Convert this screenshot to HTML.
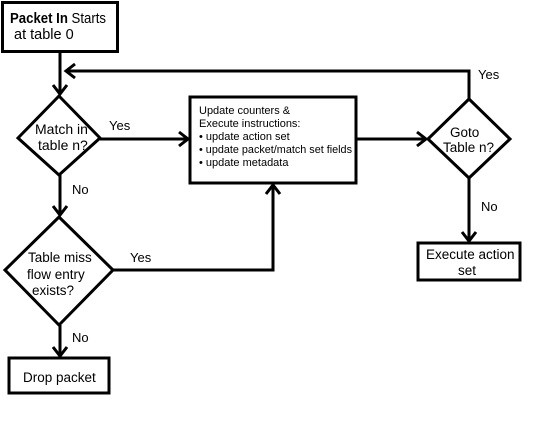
<!DOCTYPE html>
<html><head><style>
body{margin:0;background:#fff;}
svg text{font-family:"Liberation Sans",Arial,sans-serif;fill:#000;}
</style></head><body>
<svg width="542" height="417" viewBox="0 0 542 417" xmlns="http://www.w3.org/2000/svg">
<g fill="none" stroke="#000" stroke-width="3">
<rect x="2.5" y="2.5" width="115" height="49"/>
<polygon points="59,96 100,138 59,175 18,138"/>
<rect x="190" y="97" width="166" height="86"/>
<polygon points="469,99 510,139 469,178 428,139"/>
<rect x="418" y="243" width="102" height="37"/>
<polygon points="59,217 113,270 59,325 5,270"/>
<rect x="9" y="358" width="100" height="35"/>
<path d="M60,52 V94"/><path d="M53,85 L60,94 L67,85"/>
<path d="M469,99 V71 H66"/><path d="M75,64 L66,71 L75,78"/>
<path d="M100,139 H188"/><path d="M179,132 L188,139 L179,146"/>
<path d="M356,139 H426"/><path d="M417,132 L426,139 L417,146"/>
<path d="M469,178 V241"/><path d="M462,232 L469,241 L476,232"/>
<path d="M60,175 V215"/><path d="M53,206 L60,215 L67,206"/>
<path d="M113,270 H273 V185"/><path d="M266,194 L273,185 L280,194"/>
<path d="M60,325 V356"/><path d="M53,347 L60,356 L67,347"/>
</g>
<text x="10" y="23" font-size="14.5" textLength="96" lengthAdjust="spacingAndGlyphs"><tspan font-weight="bold">Packet In</tspan> Starts</text>
<text x="14" y="39" font-size="14.5">at table  0</text>
<text x="35" y="134" font-size="14">Match in</text>
<text x="38" y="150" font-size="14">table n?</text>
<text x="109" y="130" font-size="13">Yes</text>
<g font-size="11">
<text x="199" y="114">Update  counters &amp;</text>
<text x="199" y="127">Execute instructions:</text>
<text x="199" y="140">• update action set</text>
<text x="199" y="153" textLength="153" lengthAdjust="spacingAndGlyphs">• update packet/match set fields</text>
<text x="199" y="166">• update metadata</text>
</g>
<text x="450" y="137" font-size="13.5">Goto</text>
<text x="443" y="152" font-size="13.5">Table  n?</text>
<text x="478" y="79" font-size="13">Yes</text>
<text x="481" y="211" font-size="13">No</text>
<text x="426" y="259" font-size="13.5">Execute action</text>
<text x="458" y="275" font-size="13.5">set</text>
<text x="72" y="194" font-size="13">No</text>
<text x="28" y="262" font-size="13.5">Table  miss</text>
<text x="27" y="279" font-size="13.5">flow entry</text>
<text x="32" y="295" font-size="13.5">exists?</text>
<text x="130" y="262" font-size="13">Yes</text>
<text x="72" y="342" font-size="13">No</text>
<text x="23" y="382" font-size="13.5">Drop packet</text>
</svg>
</body></html>
